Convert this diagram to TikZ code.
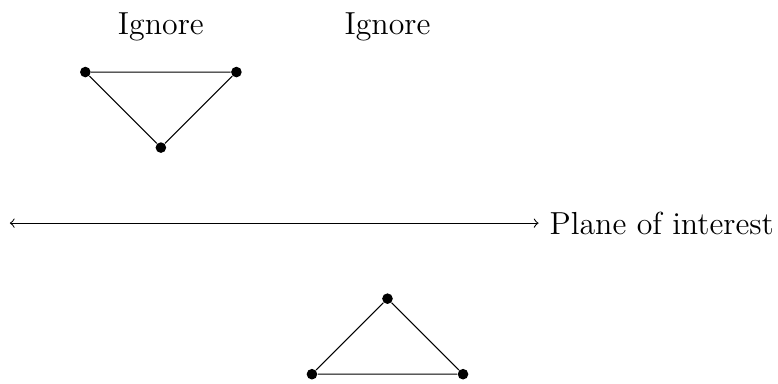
\documentclass[12pt,tikz,border=0pt]{standalone}
\usepackage{tikz}
\usetikzlibrary{positioning}

\begin{document}
\begin{tikzpicture}[
  pt/.style={circle, fill=black, inner sep=0pt, minimum size=4pt},
  edge/.style={thin}]
\useasboundingbox (-2.13,-4.12) rectangle (8.17,0.954);
% upper triangle
\node[pt] (a1) at (-1,0) {};
\node[pt] (a2) at (1,0) {};
\node[pt] (a3) at (0,-1) {};
\draw[edge] (a1) -- (a2) -- (a3) -- (a1);
\node (ign1) at (0,0.6) {Ignore};
\node (ign2) at (3,0.6) {Ignore};
% plane
\coordinate (left) at (-2,-2);
\node[right] (plane) at (5,-2) {Plane of interest};
\draw[<->] (left) -- (plane);
% lower triangle
\node[pt] (b1) at (3,-3) {};
\node[pt] (b2) at (2,-4) {};
\node[pt] (b3) at (4,-4) {};
\draw[edge] (b1) -- (b2) -- (b3) -- (b1);
\end{tikzpicture}
\end{document}
